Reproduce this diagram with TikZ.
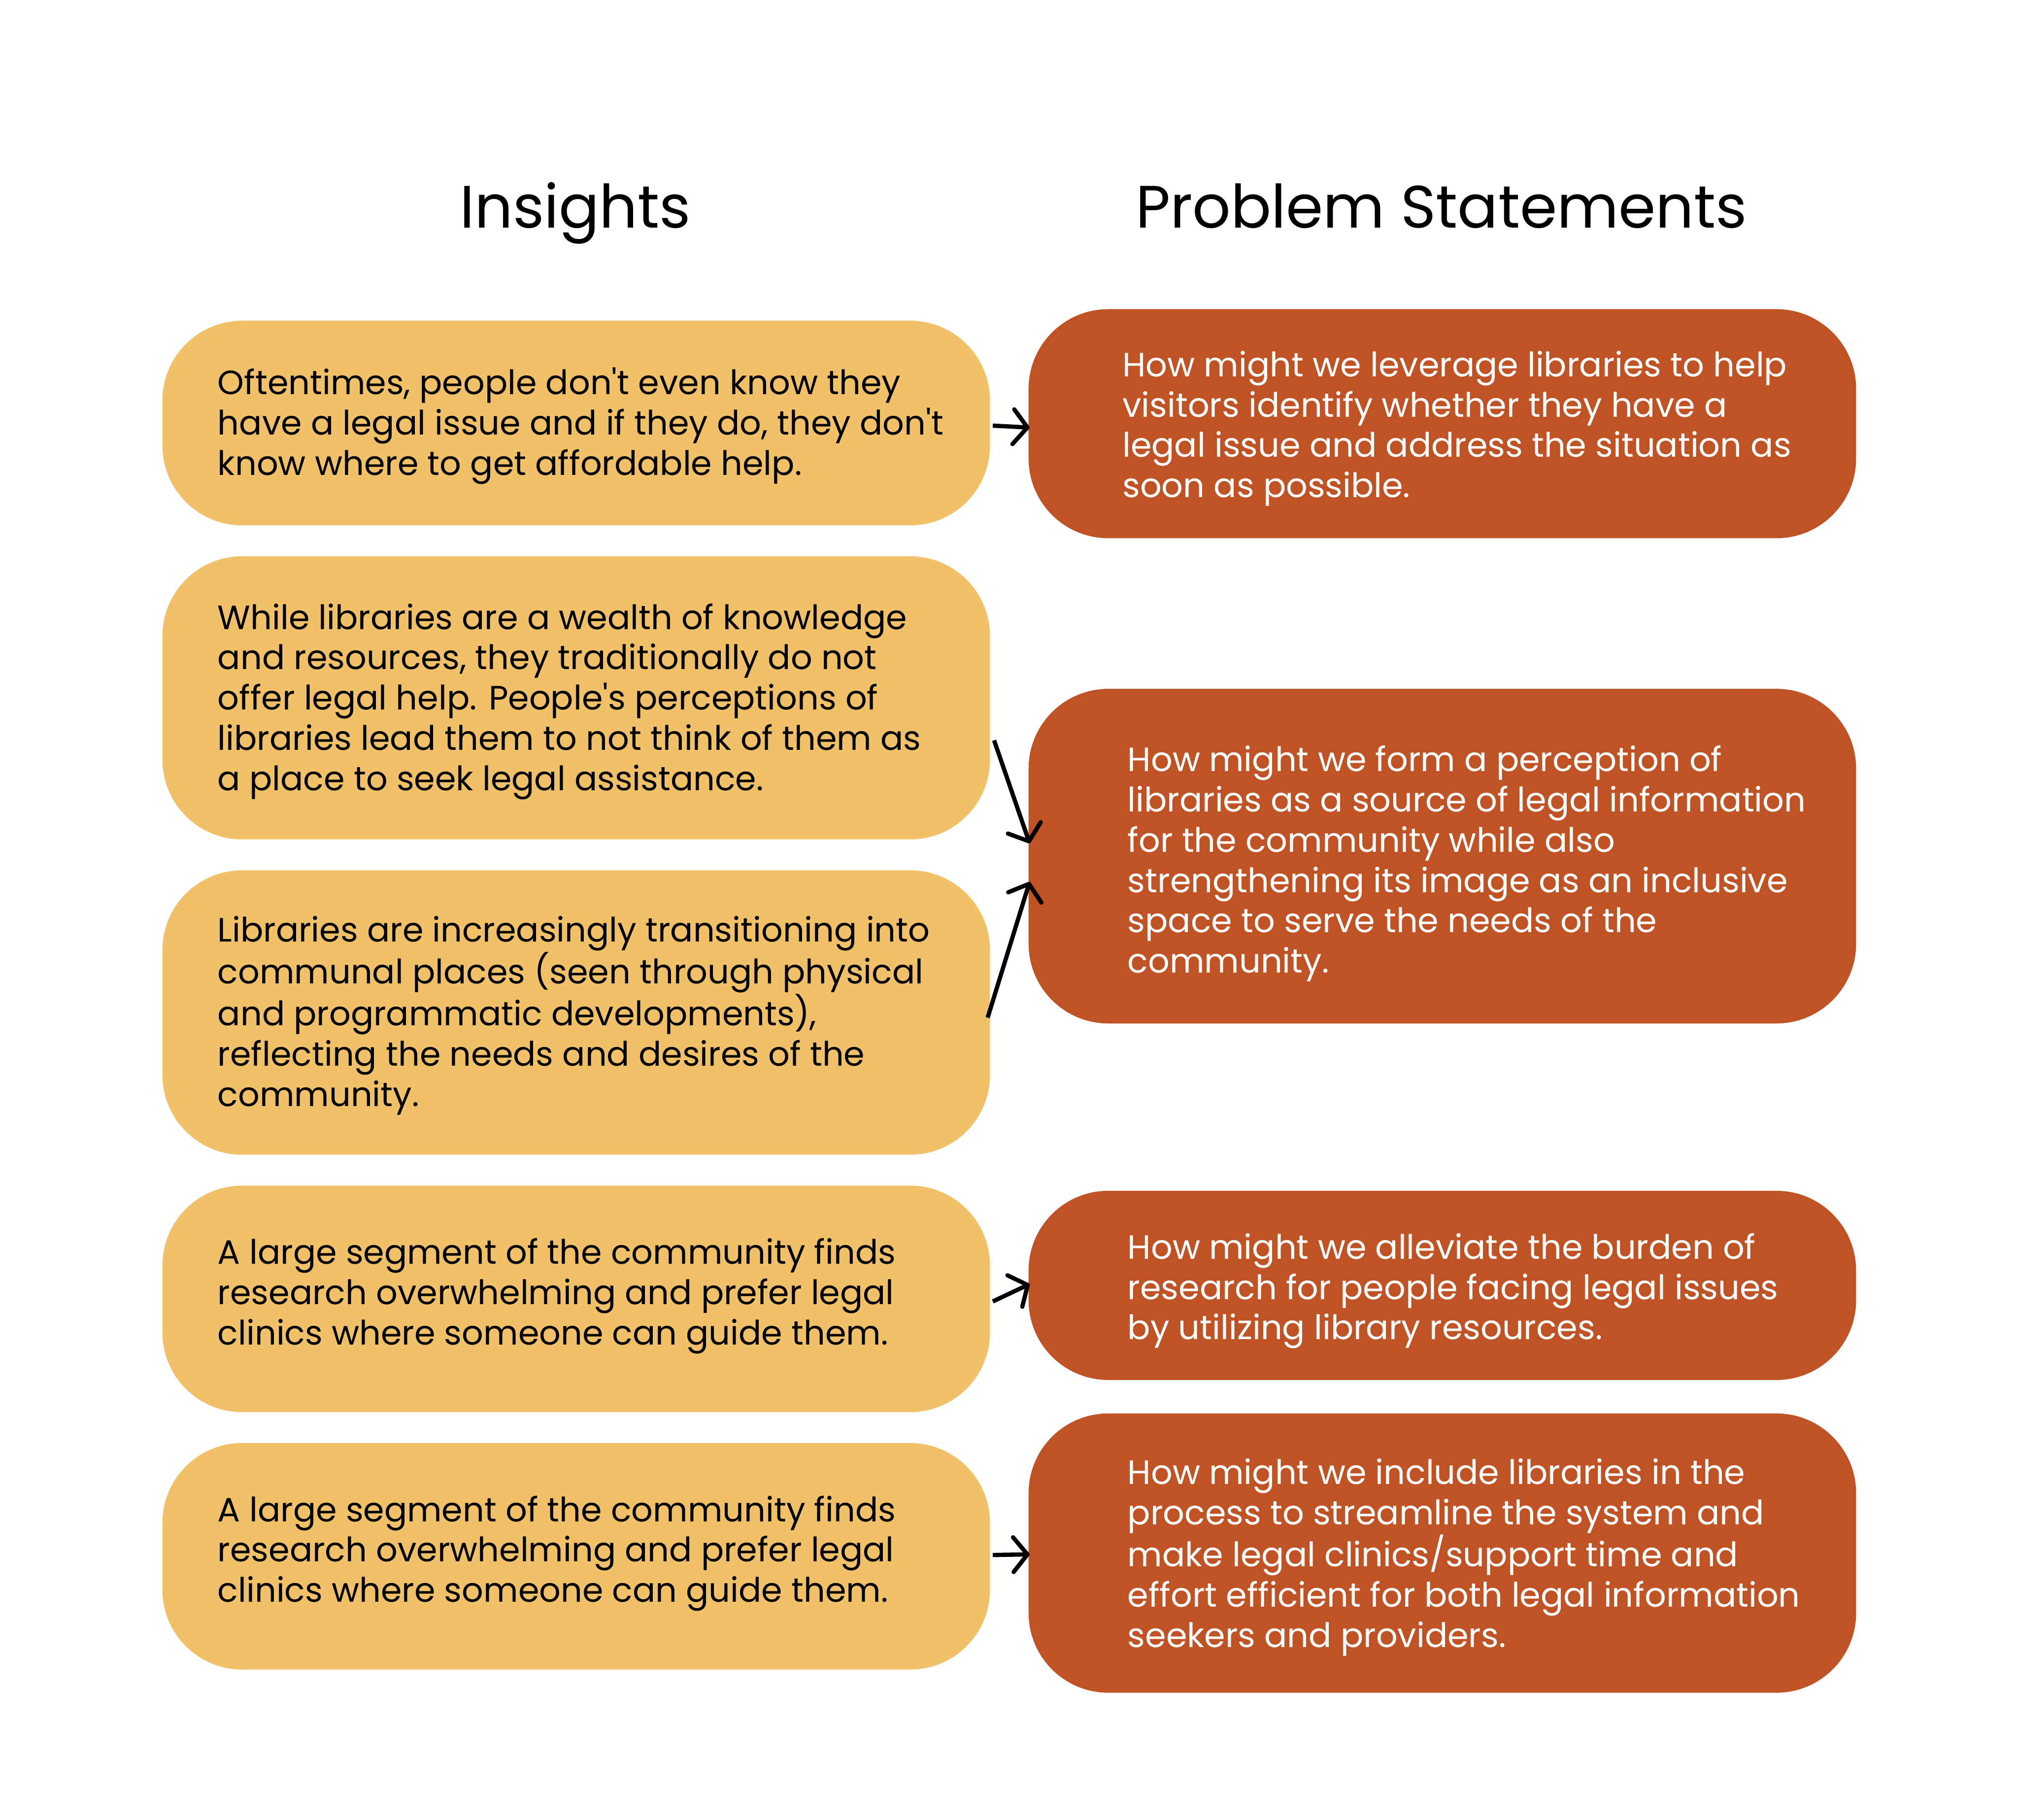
\documentclass[tikz,border=0pt]{standalone}
\usepackage{fontspec}
\setmainfont{Poppins}[Ligatures=TeXOff]
\usetikzlibrary{arrows.meta,calc}
\definecolor{insight}{HTML}{F1C169}
\definecolor{problem}{HTML}{C05325}
\begin{document}
\begin{tikzpicture}[x=1pt,y=-1pt,
  box/.style={rectangle,rounded corners=62pt,inner sep=0pt,anchor=north west},
  ibox/.style={box,fill=insight},
  pbox/.style={box,fill=problem},
  itext/.style={anchor=west,align=left,inner sep=0pt,font=\fontsize{26.2}{31.3}\selectfont,text=black},
  ptext/.style={itext,text=white},
  title/.style={font=\fontsize{46.5}{56}\selectfont,inner sep=0pt,anchor=base},
  arr/.style={line width=3.3pt,-{Straight Barb[length=11pt,width=27pt,line width=3.3pt,round]}}]
\useasboundingbox (0,0) rectangle (1568,1414);
\fill[white] (0,0) rectangle (1568,1414);
% titles
\node[title] (tI) at (447,177) {Insights};
\node[title] (tP) at (1120,177) {Problem Statements};
% insight boxes
\node[ibox,minimum width=643pt,minimum height=159pt] (L1) at (126,249) {};
\node[ibox,minimum width=643pt,minimum height=220pt] (L2) at (126,432) {};
\node[ibox,minimum width=643pt,minimum height=221pt] (L3) at (126,676) {};
\node[ibox,minimum width=643pt,minimum height=176pt] (L4) at (126,921) {};
\node[ibox,minimum width=643pt,minimum height=176pt] (L5) at (126,1121) {};
% problem boxes
\node[pbox,minimum width=643pt,minimum height=178pt] (R1) at (799,240) {};
\node[pbox,minimum width=643pt,minimum height=260pt] (R2) at (799,535) {};
\node[pbox,minimum width=643pt,minimum height=147pt] (R3) at (799,925) {};
\node[pbox,minimum width=643pt,minimum height=217pt] (R4) at (799,1098) {};
% texts
\node[itext] (T1) at (169,331) {Oftentimes, people don't even know they\\have a legal issue and if they do, they don't\\know where to get affordable help.};
\node[itext] (T2) at (169,545) {While libraries are a wealth of knowledge\\and resources, they traditionally do not\\offer legal help. People's perceptions of\\libraries lead them to not think of them as\\a place to seek legal assistance.};
\node[itext] (T3) at (169,789) {Libraries are increasingly transitioning into\\communal places (seen through physical\\and programmatic developments),\\reflecting the needs and desires of the\\community.};
\node[itext] (T4) at (169,1007) {A large segment of the community finds\\research overwhelming and prefer legal\\clinics where someone can guide them.};
\node[itext] (T5) at (169,1207) {A large segment of the community finds\\research overwhelming and prefer legal\\clinics where someone can guide them.};
\node[ptext] (S1) at (872,333) {How might we leverage libraries to help\\visitors identify whether they have a\\legal issue and address the situation as\\soon as possible.};
\node[ptext] (S2) at (876,671) {How might we form a perception of\\libraries as a source of legal information\\for the community while also\\strengthening its image as an inclusive\\space to serve the needs of the\\community.};
\node[ptext] (S3) at (876,1003) {How might we alleviate the burden of\\research for people facing legal issues\\by utilizing library resources.};
\node[ptext] (S4) at (876,1210) {How might we include libraries in the\\process to streamline the system and\\make legal clinics/support time and\\effort efficient for both legal information\\seekers and providers.};
% arrows
\draw[arr] ($(L1.east)+(2,2)$) -- ($(R1.west)+(1,3)$);
\draw[arr] ($(L2.east)+(3,33)$) -- ($(R2.west)+(1,-10)$);
\draw[arr] ($(L3.east)+(-2,4)$) -- ($(R2.west)+(1,20)$);
\draw[arr] ($(L4.east)+(2,2)$) -- ($(R3.west)+(1,-1)$);
\draw[arr] ($(L5.east)+(2,-1)$) -- ($(R4.west)+(1,1)$);
\end{tikzpicture}
\end{document}
